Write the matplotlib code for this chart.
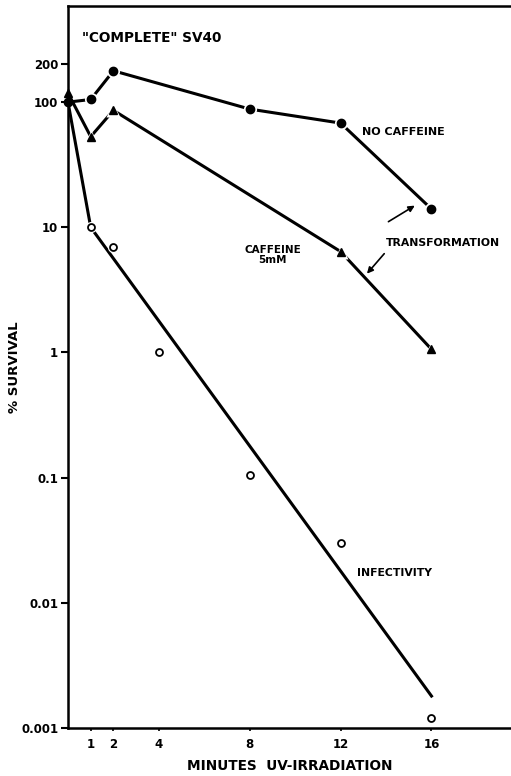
import matplotlib
matplotlib.use("Agg")
import matplotlib.pyplot as plt

# Data
x_nocaf = [0, 1, 2, 8, 12, 16]
y_nocaf = [100, 105, 178, 88, 68, 14]

x_caf = [0, 1, 2, 12, 16]
y_caf = [118, 53, 86, 6.4, 1.06]

x_inf_pts = [0, 1, 2, 4, 8, 12, 16]
y_inf_pts = [100, 10, 7.0, 1.0, 0.105, 0.030, 0.0012]

x_inf_init = [0, 1]
y_inf_init = [100, 10]
x_inf_fit = [1, 16]
y_inf_fit = [10, 0.0018]

xticks = [1, 2, 4, 8, 12, 16]
yticks = [0.001, 0.01, 0.1, 1, 10, 100, 200]
ytick_labels = ["0.001", "0.01", "0.1", "1", "10", "100", "200"]

plt.rcParams['font.family'] = ['DejaVu Sans']
plt.rcParams['font.weight'] = 'bold'

fig = plt.figure(figsize=(5.11, 7.76), dpi=100)
ax = fig.add_axes([68/511, 1-728/776, 1-68/511, (728-6)/776])

ax.set_yscale('log')
ax.set_xlim(0, 19.5)
ax.set_ylim(0.001, 10**(2 + 96/125))

lw = 2.2
# lines
ax.plot(x_nocaf, y_nocaf, '-', color='black', lw=lw, zorder=2)
ax.plot(x_caf, y_caf, '-', color='black', lw=lw, zorder=2)
ax.plot(x_inf_init, y_inf_init, '-', color='black', lw=lw, zorder=2)
ax.plot(x_inf_fit, y_inf_fit, '-', color='black', lw=lw, zorder=2)

# white halos for gaps
ax.plot(x_nocaf[1:], y_nocaf[1:], 'o', color='white', ms=9.5, mec='none', zorder=3, clip_on=False)
ax.plot(x_caf[1:], y_caf[1:], '^', color='white', ms=9.5, mec='none', zorder=3, clip_on=False)
ax.plot(x_inf_pts[1:], y_inf_pts[1:], 'o', color='white', ms=8, mec='none', zorder=3, clip_on=False)

# markers
ax.plot(x_nocaf, y_nocaf, 'o', color='black', ms=6, zorder=4, clip_on=False)
ax.plot(x_caf, y_caf, '^', color='black', ms=6, zorder=4, clip_on=False)
ax.plot(x_inf_pts[1:], y_inf_pts[1:], 'o', mfc='white', mec='black', mew=1.3, ms=5, zorder=5, clip_on=False)

# spines
for s in ['left', 'bottom', 'top']:
    ax.spines[s].set_linewidth(1.8)
ax.spines['right'].set_visible(False)

ax.set_yticks(yticks)
ax.set_yticklabels(ytick_labels)
ax.yaxis.set_minor_locator(matplotlib.ticker.NullLocator())
ax.set_xticks(xticks)
ax.set_xticklabels([str(t) for t in xticks])
ax.tick_params(axis='y', direction='out', length=5, width=1.5, labelsize=8.5, pad=2)
ax.tick_params(axis='x', direction='out', length=2, width=1.2, labelsize=8.5, pad=5)
for lab in ax.get_xticklabels() + ax.get_yticklabels():
    lab.set_fontweight('bold')

ax.set_xlabel("MINUTES  UV-IRRADIATION", fontsize=9.8, fontweight='bold', labelpad=6)
ax.set_ylabel("% SURVIVAL", fontsize=9.5, fontweight='bold')
ax.yaxis.set_label_coords(-0.106, 0.5)

ax.text(0.6, 325, '"COMPLETE" SV40', fontsize=9.8, fontweight='bold', va='center', ha='left')
ax.text(12.95, 57.5, 'NO CAFFEINE', fontsize=8, fontweight='bold', va='center', ha='left')
ax.text(9.0, 6.0, 'CAFFEINE\n5mM', fontsize=7.5, fontweight='bold', va='center', ha='center', linespacing=1.1)
ax.text(14.0, 7.45, 'TRANSFORMATION', fontsize=7.8, fontweight='bold', va='center', ha='left')
ax.text(12.73, 0.0174, 'INFECTIVITY', fontsize=7.8, fontweight='bold', va='center', ha='left')

# arrows
ax.annotate('', xy=(15.37, 15.3), xytext=(14.0, 10.8),
            arrowprops=dict(arrowstyle='-|>', color='black', lw=1.2, mutation_scale=9))
ax.annotate('', xy=(13.08, 4.1), xytext=(14.0, 6.4),
            arrowprops=dict(arrowstyle='-|>', color='black', lw=1.2, mutation_scale=9))

fig.savefig('out.png', dpi=100)
